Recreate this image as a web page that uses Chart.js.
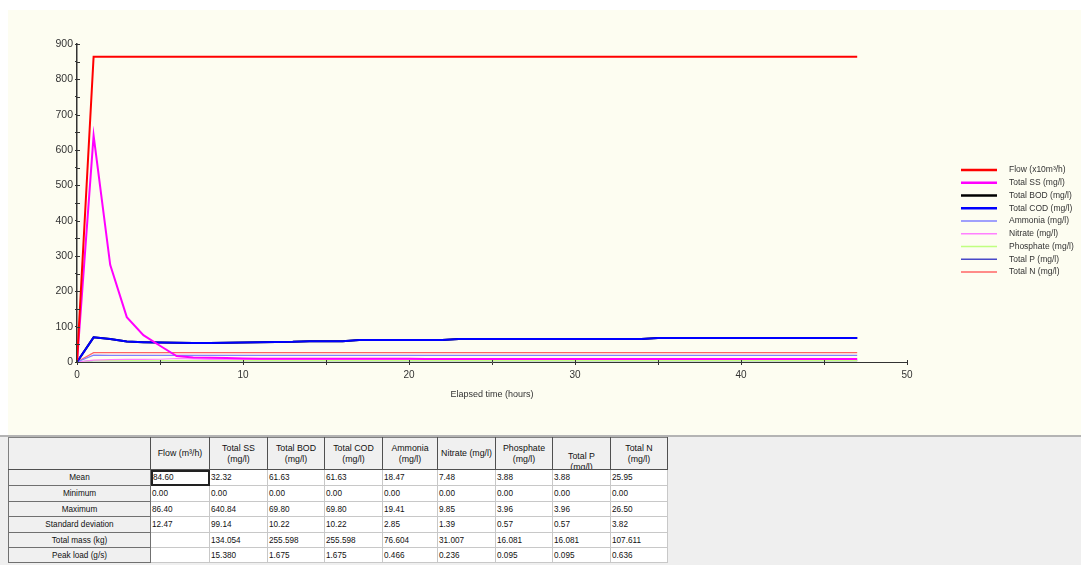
<!DOCTYPE html>
<html><head><meta charset="utf-8">
<script src="https://cdn.jsdelivr.net/npm/chart.js@4.4.0/dist/chart.umd.min.js"></script>
<style>
html,body{margin:0;padding:0;background:#fff;width:1081px;height:565px;overflow:hidden;font-family:'Liberation Sans',Arial,sans-serif;}
#panel{position:absolute;left:8px;top:10px;width:1073px;height:425px;background:#fdfdf1;}
#bottom{position:absolute;left:0;top:435px;width:1081px;height:130px;background:#efefef;border-top:2px solid #b4b4b4;box-sizing:border-box;}
#stats{position:absolute;left:8px;top:437px;border-collapse:collapse;table-layout:fixed;border:1px solid #606060;color:#111;}
#stats th,#stats td{padding:0;overflow:hidden;white-space:nowrap;}
#stats thead th{background:#f0f0f0;border:1px solid #808080;border-right-color:#505050;border-bottom-color:#505050;font-size:8.8px;font-weight:normal;line-height:11px;height:31px;text-align:center;vertical-align:middle;}
#stats tbody th{background:#f0f0f0;border:1px solid #707070;font-size:8.2px;font-weight:normal;text-align:center;}
#stats td{background:#fff;border:1px solid #c8c8c8;font-size:8.2px;text-align:left;padding-left:1px;}
#stats td.focus{outline:2px solid #222;outline-offset:-2px;padding-left:2px;}
#stats .clip{height:30px;overflow:hidden;padding-top:12px;box-sizing:border-box;}
</style></head>
<body>
<div id="panel"><canvas id="c" width="1073" height="425"></canvas></div>
<div id="bottom"></div>
<table id="stats"><colgroup id="cols"></colgroup><thead><tr id="hrow"></tr></thead><tbody id="tb"></tbody></table>
<script>
// ---------- chart data ----------
const hours = [0,1,2,3,4,5,6,7,8,9,10,11,12,13,14,15,16,17,18,19,20,21,22,23,24,25,26,27,28,29,30,31,32,33,34,35,36,37,38,39,40,41,42,43,44,45,46,47];
const flow = [0,864,864,864,864,864,864,864,864,864,864,864,864,864,864,864,864,864,864,864,864,864,864,864,864,864,864,864,864,864,864,864,864,864,864,864,864,864,864,864,864,864,864,864,864,864,864,864];
const totalSS = [0,640.84,275,127,76,46,17,13,12,11,10,9.2,9.2,9.2,9.2,9.2,9.2,9.2,9.2,9.2,9.2,8.8,8.8,8.8,8.8,8.8,8.8,8.8,8.8,8.8,8.8,8.8,8.8,8.8,8.8,8.4,8.4,8.4,8.4,8.4,8.4,8.4,8.4,8.4,8.4,8.4,8.4,8.4];
const totalBOD = [0,69.8,65,58,56,55,54.5,54,54,54.5,55.5,56,56.5,57,59,59,59,62,62,62,62,62,62,65,65,65,65,65,65,65,65,65,65,65,65,68,68,68,68,68,68,68,68,68,68,68,68,68];
const totalCOD = [0,69.8,65,58,56,55,54.5,54,54,54.5,55.5,56,56.5,57,59,59,59,62,62,62,62,62,62,65,65,65,65,65,65,65,65,65,65,65,65,68,68,68,68,68,68,68,68,68,68,68,68,68];
const ammonia = [0,19.41,19,19,19,19,19,19,19,19,19,18.8,18.8,18.8,18.8,18.8,18.8,18.8,18.8,18.8,18.8,18.8,18.8,18.8,18.8,18.8,18.8,18.8,18.8,18.8,18.8,18.8,18.8,18.8,18.8,18.8,18.8,18.8,18.8,18.8,18.8,18.8,18.8,18.8,18.8,18.8,18.8,18.8];
const nitrate = [0,5.2,6.5,7.2,7.6,7.8,9.85,8.6,7.7,7.7,7.7,7.7,7.7,7.7,7.7,7.7,7.7,7.7,7.7,7.7,7.7,7.7,7.7,7.7,7.7,7.7,7.7,7.7,7.6,7.6,7.6,7.6,7.6,7.6,7.6,7.6,7.6,7.6,7.6,7.6,7.6,7.6,7.6,7.6,7.6,7.6,7.6,7.6];
const phosphate = [0,3.96,3.96,3.96,3.96,3.96,3.96,3.96,3.96,3.96,3.96,3.96,3.96,3.96,3.96,3.96,3.96,3.96,3.96,3.96,3.96,3.96,3.96,3.96,3.96,3.96,3.96,3.96,3.96,3.96,3.96,3.96,3.96,3.96,3.96,3.96,3.96,3.96,3.96,3.96,3.96,3.96,3.96,3.96,3.96,3.96,3.96,3.96];
const totalP = [0,3.96,3.96,3.96,3.96,3.96,3.96,3.96,3.96,3.96,3.96,3.96,3.96,3.96,3.96,3.96,3.96,3.96,3.96,3.96,3.96,3.96,3.96,3.96,3.96,3.96,3.96,3.96,3.96,3.96,3.96,3.96,3.96,3.96,3.96,3.96,3.96,3.96,3.96,3.96,3.96,3.96,3.96,3.96,3.96,3.96,3.96,3.96];
const totalN = [0,26.5,26.5,26.5,26.5,26.5,26.5,26.5,26.5,26.5,26.5,26.5,26.5,26.5,26.5,26.5,26.5,26.5,26.5,26.5,26.5,26.5,26.5,26.5,26.5,26.5,26.5,26.5,26.5,26.5,26.5,26.5,26.5,26.5,26.5,26.5,26.5,26.5,26.5,26.5,26.5,26.5,26.5,26.5,26.5,26.5,26.5,26.5];
const seriesLabels = ['Flow (x10m³/h)','Total SS (mg/l)','Total BOD (mg/l)','Total COD (mg/l)','Ammonia (mg/l)','Nitrate (mg/l)','Phosphate (mg/l)','Total P (mg/l)','Total N (mg/l)'];

// ---------- table data ----------
const tableHeaders = ['Flow (m³/h)','Total SS<br>(mg/l)','Total BOD<br>(mg/l)','Total COD<br>(mg/l)','Ammonia<br>(mg/l)','Nitrate (mg/l)','Phosphate<br>(mg/l)','Total P<br>(mg/l)','Total N<br>(mg/l)'];
const rowLabels = ['Mean','Minimum','Maximum','Standard deviation','Total mass (kg)','Peak load (g/s)'];
const meanRow = ['84.60','32.32','61.63','61.63','18.47','7.48','3.88','3.88','25.95'];
const minRow = ['0.00','0.00','0.00','0.00','0.00','0.00','0.00','0.00','0.00'];
const maxRow = ['86.40','640.84','69.80','69.80','19.41','9.85','3.96','3.96','26.50'];
const stdRow = ['12.47','99.14','10.22','10.22','2.85','1.39','0.57','0.57','3.82'];
const massRow = ['','134.054','255.598','255.598','76.604','31.007','16.081','16.081','107.611'];
const peakRow = ['','15.380','1.675','1.675','0.466','0.236','0.095','0.095','0.636'];

// ---------- build table ----------
const colWidths = [142,59,58,57,58,55,58,57,58,57];
document.getElementById('cols').innerHTML = colWidths.map(w=>'<col style="width:'+w+'px">').join('');
document.getElementById('hrow').innerHTML = '<th></th>' + tableHeaders.map(h=>h.indexOf('Total P')===0 ? '<th><div class="clip">'+h+'</div></th>' : '<th>'+h+'</th>').join('');
const rows = [meanRow,minRow,maxRow,stdRow,massRow,peakRow];
const rowHeights = [16,16,15,16,15,15];
document.getElementById('tb').innerHTML = rows.map((r,i)=>'<tr style="height:'+rowHeights[i]+'px"><th>'+rowLabels[i]+'</th>'+r.map((v,j)=>'<td'+(i===0&&j===0?' class="focus"':'')+'>'+v+'</td>').join('')+'</tr>').join('');

// ---------- chart ----------
const FONT = "'Liberation Sans', Arial, sans-serif";
Chart.defaults.font.family = FONT;
const seriesValues = [flow,totalSS,totalBOD,totalCOD,ammonia,nitrate,phosphate,totalP,totalN];
const seriesColors = ['#ff0000','#ff00ff','#000000','#0000ff','#8080ff','#ff80ff','#c0ff80','#4848c8','#ff6464'];
const seriesWidths = [2,2,2,2,1.2,1.2,1.2,1.2,1.2];
const datasets = seriesValues.map((vals,i)=>({
  label: seriesLabels[i],
  data: hours.map((h,k)=>({x:h,y:vals[k]})),
  borderColor: seriesColors[i],
  backgroundColor: seriesColors[i],
  borderWidth: seriesWidths[i],
  pointRadius: 0,
  tension: 0,
  fill: false,
  order: i===2 ? 1 : 0,
  legendWidth: i<4 ? 2.6 : 1.3
}));

const sideLegend = {
  id:'sideLegend',
  afterDraw(chart){
    const ctx = chart.ctx;
    ctx.save();
    chart.data.datasets.forEach((ds,i)=>{
      const y = 160 + i*12.75;
      ctx.strokeStyle = ds.borderColor;
      ctx.lineWidth = ds.legendWidth;
      ctx.beginPath(); ctx.moveTo(953,y); ctx.lineTo(989,y); ctx.stroke();
      ctx.fillStyle = '#333';
      ctx.font = '8.5px ' + FONT;
      ctx.textBaseline = 'middle';
      ctx.textAlign = 'left';
      ctx.fillText(ds.label, 1001, y);
    });
    ctx.restore();
  }
};

// short inward tick marks so ticks cross the axis lines
const innerTicks = {
  id:'innerTicks',
  afterDraw(chart){
    const ctx = chart.ctx, xs = chart.scales.x, ys = chart.scales.y;
    ctx.save();
    ctx.strokeStyle = '#333'; ctx.lineWidth = 1;
    ctx.beginPath();
    ys.ticks.forEach(t=>{ const p = Math.round(ys.getPixelForValue(t.value))+0.5; ctx.moveTo(ys.right, p); ctx.lineTo(ys.right+3, p); });
    xs.ticks.forEach(t=>{ const p = Math.round(xs.getPixelForValue(t.value))+0.5; ctx.moveTo(p, xs.top); ctx.lineTo(p, xs.top-2); });
    ctx.stroke();
    ctx.restore();
  }
};

new Chart(document.getElementById('c'), {
  type:'line',
  data:{datasets},
  plugins:[sideLegend, innerTicks],
  options:{
    responsive:false,
    animation:false,
    devicePixelRatio:1,
    layout:{padding:{top:34,right:174,left:0,bottom:0}},
    plugins:{legend:{display:false},tooltip:{enabled:false},title:{display:false}},
    scales:{
      x:{
        type:'linear', min:0, max:50,
        afterFit(s){ s.height = 73; },
        ticks:{stepSize:5, autoSkip:false, maxRotation:0, color:'#333', font:{size:10}, padding:4,
          callback:(v)=> v%10===0 ? String(v) : ''},
        grid:{drawOnChartArea:false, drawTicks:true, tickLength:3, color:'#333'},
        border:{color:'#333', width:1},
        title:{display:true, text:'Elapsed time (hours)', color:'#333', font:{size:9}, padding:{top:0,bottom:35}}
      },
      y:{
        type:'linear', min:0, max:900,
        afterFit(s){ s.width = 69; },
        ticks:{stepSize:50, autoSkip:false, color:'#333', font:{size:10.5}, padding:2,
          callback:(v)=> v%100===0 ? String(v) : ''},
        grid:{drawOnChartArea:false, drawTicks:true, tickLength:2, color:'#333'},
        border:{color:'#333', width:1.5}
      }
    }
  }
});
</script>
</body></html>
